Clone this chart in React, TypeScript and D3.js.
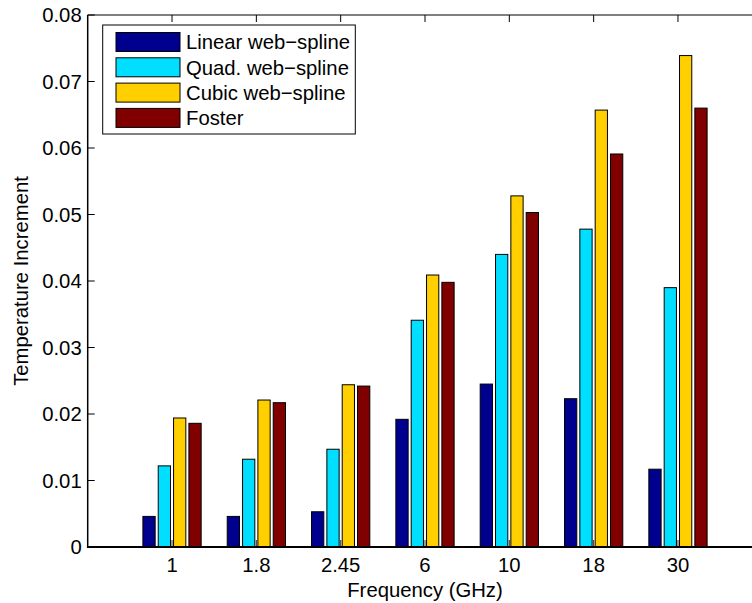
import React from "react";
import * as d3 from "d3";

const categories = ["1", "1.8", "2.45", "6", "10", "18", "30"];
const seriesNames = ["Linear web\u2212spline", "Quad. web\u2212spline", "Cubic web\u2212spline", "Foster"];
const linear = [0.0046, 0.0046, 0.0053, 0.0192, 0.0245, 0.0223, 0.0117];
const quad = [0.0122, 0.0132, 0.0147, 0.0341, 0.0440, 0.0478, 0.0390];
const cubic = [0.0194, 0.0221, 0.0244, 0.0409, 0.0528, 0.0657, 0.0739];
const foster = [0.0186, 0.0217, 0.0242, 0.0398, 0.0503, 0.0591, 0.0660];
const yTicks = [0, 0.01, 0.02, 0.03, 0.04, 0.05, 0.06, 0.07, 0.08];
const colors = ["#00008F", "#00DFFF", "#FFCF00", "#800000"];

const series = [linear, quad, cubic, foster];

export default function App() {
  const W = 752, H = 603;
  const x = d3.scaleLinear().domain([0, 8]).range([87.7, 762.3]);
  const y = d3.scaleLinear().domain([0, 0.08]).range([547, 15]);
  const n = series.length;
  const groupWidth = Math.min(0.8, n / (n + 1.5));
  const barW = (groupWidth / n) * 0.8;
  const offset = (i: number) => (i - (n - 1) / 2) * (groupWidth / n);
  const font = "'Liberation Sans', Arial, Helvetica, sans-serif";
  const fs = 20.3;
  const legendX = 102.7, legendY = 25, legendW = 252.6, legendH = 109;
  const rowStep = 25.3;

  return (
    <svg width={W} height={H} style={{ position: "absolute", left: 0, top: 0, background: "#fff" }} fontFamily={font}>
      <rect x={0} y={0} width={W} height={H} fill="#fff" />
      {/* bottom ticks (under bars) */}
      {categories.map((c, i) => (
        <line key={"bt" + c} x1={x(i + 1)} x2={x(i + 1)} y1={y(0)} y2={y(0) - 7} stroke="#333" strokeWidth={1} />
      ))}
      {/* bars */}
      {series.map((vals, s) =>
        vals.map((v, i) => {
          const cx = x(i + 1 + offset(s));
          const w = x(barW) - x(0);
          return (
            <rect
              key={`b${s}-${i}`}
              x={cx - w / 2}
              y={y(v)}
              width={w}
              height={y(0) - y(v)}
              fill={colors[s]}
              stroke="#000"
              strokeWidth={1}
            />
          );
        })
      )}
      {/* top ticks */}
      {categories.map((c, i) => (
        <line key={"tt" + c} x1={x(i + 1)} x2={x(i + 1)} y1={y(0.08)} y2={y(0.08) + 7} stroke="#000" strokeWidth={1} />
      ))}
      {/* y ticks */}
      {yTicks.map((t) => (
        <g key={"yt" + t}>
          <line x1={x(0)} x2={x(0) + 7} y1={y(t)} y2={y(t)} stroke="#000" strokeWidth={1} />
          <text x={x(0) - 6} y={y(t)} dy="0.36em" textAnchor="end" fontSize={fs} fill="#000">
            {t === 0 ? "0" : t.toFixed(2)}
          </text>
        </g>
      ))}
      {/* axes frame */}
      <line x1={x(0)} x2={x(0)} y1={y(0.08)} y2={y(0) + 1} stroke="#000" strokeWidth={1.5} />
      <line x1={x(0)} x2={x(8)} y1={y(0.08)} y2={y(0.08)} stroke="#000" strokeWidth={1.2} />
      <line x1={x(0)} x2={x(8)} y1={y(0)} y2={y(0)} stroke="#000" strokeWidth={2} />
      <line x1={x(8)} x2={x(8)} y1={y(0.08)} y2={y(0)} stroke="#000" strokeWidth={1.2} />
      {/* x tick labels */}
      {categories.map((c, i) => (
        <text key={"xl" + c} x={x(i + 1)} y={571.5} textAnchor="middle" fontSize={fs} fill="#000">
          {c}
        </text>
      ))}
      {/* axis labels */}
      <text x={x(4)} y={596.5} textAnchor="middle" fontSize={fs} fill="#000">Frequency (GHz)</text>
      <text transform={`translate(28, ${y(0.04)}) rotate(-90)`} textAnchor="middle" fontSize={fs} fill="#000">
        Temperature Increment
      </text>
      {/* legend */}
      <rect x={legendX} y={legendY} width={legendW} height={legendH} fill="#fff" stroke="#000" strokeWidth={1} />
      {seriesNames.map((name, s) => {
        const cy = 42 + s * rowStep;
        return (
          <g key={"lg" + s}>
            <rect x={116} y={cy - 9.5} width={64} height={19} fill={colors[s]} stroke="#000" strokeWidth={1} />
            <text x={186} y={cy} dy="0.36em" fontSize={fs} fill="#000">{name}</text>
          </g>
        );
      })}
    </svg>
  );
}
